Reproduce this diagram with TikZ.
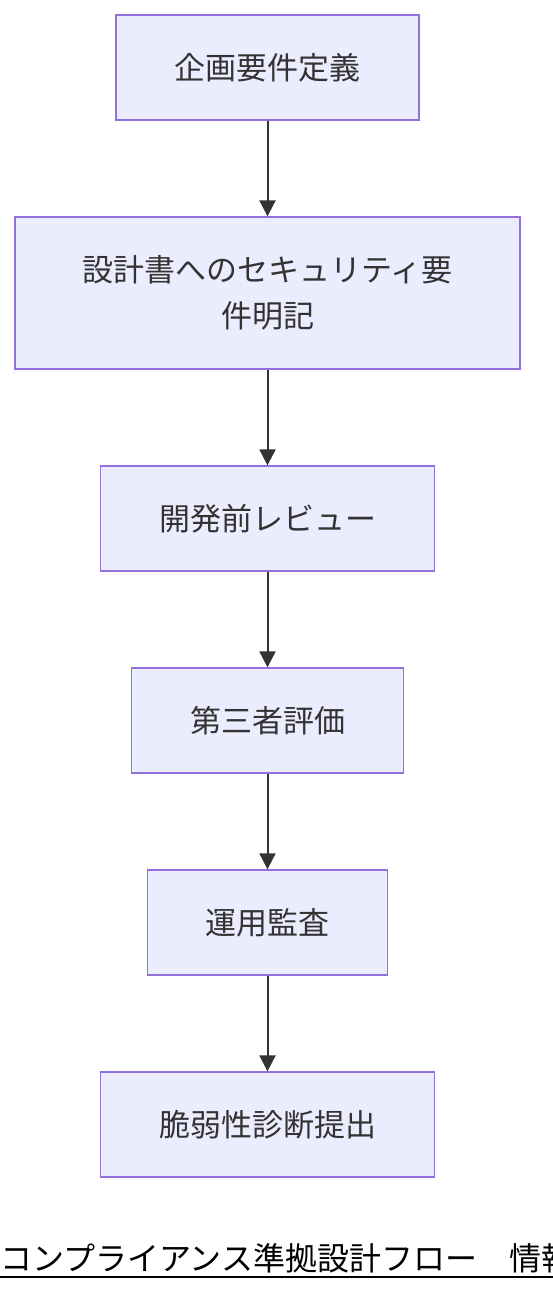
\documentclass[tikz,border=0pt]{standalone}
\usepackage{fontspec}
\usepackage{xcolor}
\usetikzlibrary{calc,positioning,arrows.meta}
\newfontfamily\jpfont{Noto Sans CJK JP}
\definecolor{boxfill}{HTML}{ECECFF}
\definecolor{boxline}{HTML}{9370DB}
\definecolor{ink}{HTML}{333333}
\tikzset{
    flowbox/.style={rectangle,draw=boxline,fill=boxfill,line width=1.3pt,text=ink,
        font=\jpfont\fontsize{31}{46}\selectfont,align=center,minimum height=105pt,inner sep=0pt},
    flowarrow/.style={draw=ink,line width=2pt,-{Triangle[length=16pt,width=16pt]}}
}
\begin{document}
\begin{tikzpicture}
        \useasboundingbox (0,0) rectangle (552pt,-1292pt);
        %nodes
        \begin{scope}[node distance=95.7pt]
            \node[flowbox,minimum width=303pt] (plan) at (267.5pt,-67.5pt) {企画要件定義};
            \node[flowbox,minimum width=505pt,minimum height=152pt,below = of plan] (spec) {設計書へのセキュリティ要\\件明記};
            \node[flowbox,minimum width=334pt,below = of spec] (review) {開発前レビュー};
            \node[flowbox,minimum width=272pt,below = of review] (third) {第三者評価};
            \node[flowbox,minimum width=240pt,below = of third] (audit) {運用監査};
            \node[flowbox,minimum width=334pt,below = of audit] (vuln) {脆弱性診断提出};
        \end{scope}

        %arrows
        \draw[flowarrow] (plan) -- (spec);
        \draw[flowarrow] (spec) -- (review);
        \draw[flowarrow] (review) -- (third);
        \draw[flowarrow] (third) -- (audit);
        \draw[flowarrow] (audit) -- (vuln);

        %caption
        \node[anchor=base west,inner sep=0pt,font=\jpfont\fontsize{32}{38}\selectfont] (cap) at (0pt,-1270pt) {コンプライアンス準拠設計フロー　情報};
        \draw[line width=2pt] ($(cap.base west)+(0,-7pt)$) -- ++(600pt,0);
\end{tikzpicture}
\end{document}
